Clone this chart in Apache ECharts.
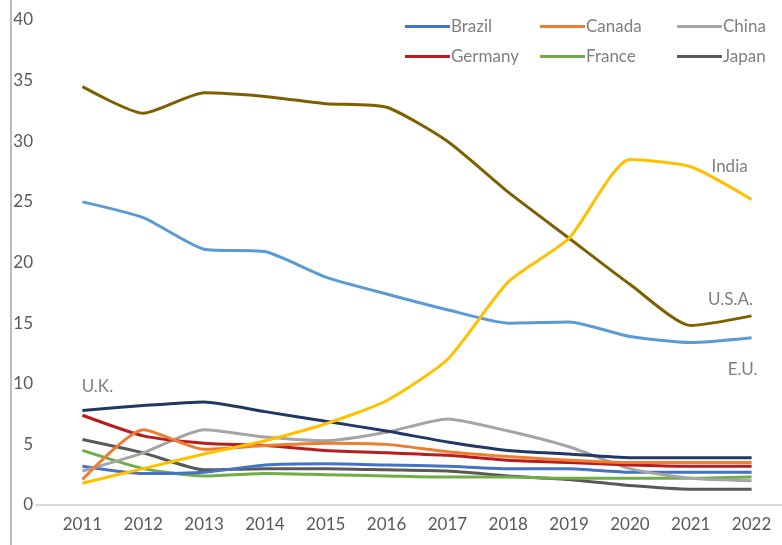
<!DOCTYPE html>
<html>
<head>
<meta charset="utf-8">
<script src="https://cdn.jsdelivr.net/npm/echarts@6/dist/echarts.min.js"></script>
<style>
  html, body { margin: 0; padding: 0; background: #ffffff; }
  #chart { width: 782px; height: 545px; }
</style>
</head>
<body>
<div id="chart"></div>
<script>
// Years on the horizontal axis
const years = ['2011','2012','2013','2014','2015','2016','2017','2018','2019','2020','2021','2022'];

// Series values, one array per country / region
const usa     = [34.5, 32.3, 34.0, 33.7, 33.1, 32.8, 30.0, 25.8, 22.0, 18.2, 14.8, 15.6];
const eu      = [25.0, 23.7, 21.1, 20.9, 18.8, 17.4, 16.1, 15.0, 15.1, 13.9, 13.4, 13.8];
const india   = [1.8, 3.0, 4.2, 5.3, 6.7, 8.6, 12.0, 18.4, 22.0, 28.5, 27.9, 25.2];
const uk      = [7.8, 8.2, 8.5, 7.7, 6.9, 6.1, 5.2, 4.5, 4.2, 3.9, 3.9, 3.9];
const germany = [7.4, 5.7, 5.1, 4.9, 4.5, 4.3, 4.1, 3.7, 3.5, 3.3, 3.2, 3.2];
const canada  = [2.1, 6.2, 4.6, 4.9, 5.1, 5.0, 4.4, 4.0, 3.7, 3.5, 3.5, 3.5];
const china   = [2.8, 4.3, 6.2, 5.6, 5.3, 6.0, 7.1, 6.1, 4.8, 3.0, 2.2, 2.0];
const japan   = [5.4, 4.3, 2.9, 3.0, 3.0, 2.9, 2.8, 2.4, 2.1, 1.6, 1.3, 1.3];
const france  = [4.5, 3.0, 2.4, 2.6, 2.5, 2.4, 2.3, 2.3, 2.2, 2.2, 2.2, 2.3];
const brazil  = [3.2, 2.6, 2.7, 3.3, 3.4, 3.3, 3.2, 3.0, 3.0, 2.7, 2.7, 2.7];

// Y axis ticks
const yMin = 0, yMax = 40, yStep = 5;

const FONT = 'Lato, "Open Sans", sans-serif';
const TEXT = '#7f7f7f';
const AXIS_TEXT = '#595959';

// A line series; optionally tags one point with a text label placed next to it
function lineSeries(name, values, color, tag) {
  const s = {
    name: name,
    type: 'line',
    data: values,
    smooth: 0.2,
    symbol: 'none',
    lineStyle: { color: color, width: 3 },
    itemStyle: { color: color },
    emphasis: { disabled: true },
    z: 2
  };
  if (tag) {
    s.markPoint = {
      symbol: 'circle',
      symbolSize: 1,
      itemStyle: { color: 'rgba(0,0,0,0)' },
      silent: true,
      data: [{
        coord: [years[tag.index], values[tag.index]],
        label: {
          show: true,
          formatter: tag.text,
          position: tag.position,
          offset: tag.offset,
          color: TEXT,
          fontFamily: FONT,
          fontSize: 17
        }
      }]
    };
  }
  return s;
}

const series = [
  lineSeries('Japan', japan, '#595959'),
  lineSeries('France', france, '#70AD47'),
  lineSeries('Brazil', brazil, '#4472C4'),
  lineSeries('China', china, '#A5A5A5'),
  lineSeries('Germany', germany, '#B81C1C'),
  lineSeries('Canada', canada, '#ED7D31'),
  lineSeries('U.K.', uk, '#1F3864', { index: 0, text: 'U.K.', position: 'top', offset: [15, -10] }),
  lineSeries('E.U.', eu, '#5B9BD5', { index: 11, text: 'E.U.', position: 'bottom', offset: [-9, 18] }),
  lineSeries('U.S.A.', usa, '#7F6000', { index: 11, text: 'U.S.A.', position: 'top', offset: [-21, -2] }),
  lineSeries('India', india, '#FFC000', { index: 11, text: 'India', position: 'top', offset: [-22, -19] })
];

// Legend entries, two rows of three
const legendRows = [['Brazil', 'Canada', 'China'], ['Germany', 'France', 'Japan']];
const legendCols = [400, 535, 672];
const legendTops = [13, 43];
const legends = [];
legendRows.forEach((row, r) => {
  row.forEach((name, c) => {
    legends.push({
      data: [name],
      left: legendCols[c],
      top: legendTops[r],
      icon: 'rect',
      itemWidth: 45,
      itemHeight: 3,
      itemGap: 0,
      selectedMode: false,
      textStyle: { color: TEXT, fontFamily: FONT, fontSize: 17, padding: [0, 0, 0, -4] }
    });
  });
});

const chart = echarts.init(document.getElementById('chart'), null, { renderer: 'canvas' });
chart.setOption({
  animation: false,
  backgroundColor: '#ffffff',
  legend: legends,
  grid: { left: 52, right: -4, top: 20, bottom: 40, containLabel: false },
  xAxis: {
    type: 'category',
    data: years,
    boundaryGap: true,
    axisLine: { lineStyle: { color: '#D9D9D9', width: 2 } },
    axisTick: { show: false },
    axisLabel: { color: AXIS_TEXT, fontFamily: FONT, fontSize: 17, margin: 11 }
  },
  yAxis: {
    type: 'value',
    min: yMin,
    max: yMax,
    interval: yStep,
    axisLine: { show: false },
    axisTick: { show: false },
    splitLine: { show: false },
    axisLabel: { color: AXIS_TEXT, fontFamily: FONT, fontSize: 17, margin: 19 }
  },
  graphic: [
    { type: 'line', shape: { x1: 35, y1: 505, x2: 52, y2: 505 }, style: { stroke: '#D9D9D9', lineWidth: 2 }, silent: true },
    { type: 'line', shape: { x1: 11, y1: 0, x2: 11, y2: 545 }, style: { stroke: '#A6A6A6', lineWidth: 1.5 }, silent: true }
  ],
  series: series
});
</script>
</body>
</html>
